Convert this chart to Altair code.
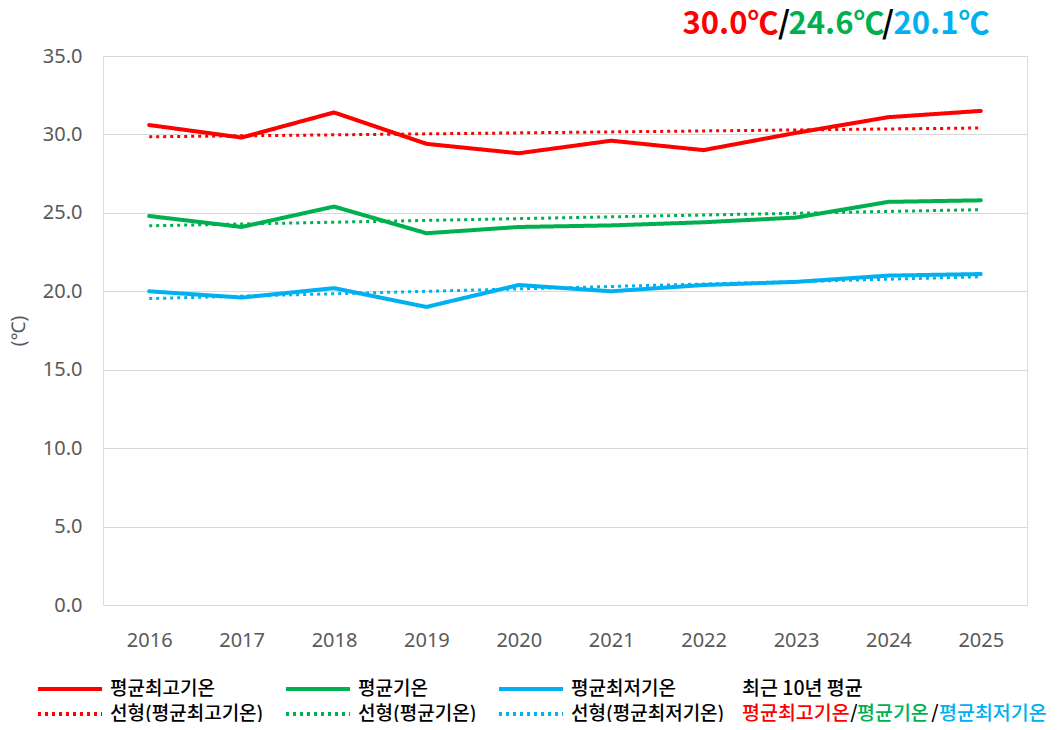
import altair as alt
import pandas as pd

years = [2016, 2017, 2018, 2019, 2020, 2021, 2022, 2023, 2024, 2025]
series_names = ["평균최고기온", "평균기온", "평균최저기온"]
trend_names = ["선형(평균최고기온)", "선형(평균기온)", "선형(평균최저기온)"]
max_temp = [30.6, 29.8, 31.4, 29.4, 28.8, 29.6, 29.0, 30.1, 31.1, 31.5]
avg_temp = [24.8, 24.1, 25.4, 23.7, 24.1, 24.2, 24.4, 24.7, 25.7, 25.8]
min_temp = [20.0, 19.6, 20.2, 19.0, 20.4, 20.0, 20.4, 20.6, 21.0, 21.1]
y_ticks = [0, 5, 10, 15, 20, 25, 30, 35]
series_colors = ["#FF0000", "#00B050", "#00B0F0"]
headline_values = ["30.0℃", "24.6℃", "20.1℃"]
note_title = "최근 10년 평균"
y_title = "(℃)"

rows = []
for name, tname, vals in zip(series_names, trend_names, [max_temp, avg_temp, min_temp]):
    for yr, v in zip(years, vals):
        rows.append({"year": yr, "series": name, "trend": tname, "value": v})
df = pd.DataFrame(rows)

# legend fills column by column: each column holds a series and its trend line
labels = []
label_colors = []
label_dashes = []
for name, tname, col in zip(series_names, trend_names, series_colors):
    labels += [name, tname]
    label_colors += [col, col]
    label_dashes += [[1, 0], [3, 4]]

KR = "Noto Sans CJK KR"

legend = alt.Legend(
    title=None, orient="none", legendX=-67, legendY=623, columns=3,
    symbolType="stroke", symbolSize=4096, symbolStrokeWidth=4, clipHeight=20,
    rowPadding=5, columnPadding=20, labelOffset=6, labelFont=KR,
    labelFontSize=19, labelColor="#000000", labelLimit=300, padding=0,
    labelFontWeight=500,
)
color = alt.Color("label:N", scale=alt.Scale(domain=labels, range=label_colors), legend=legend)
dash = alt.StrokeDash("label:N", scale=alt.Scale(domain=labels, range=label_dashes), legend=legend)

x = alt.X("year:Q", scale=alt.Scale(domain=[2015.5, 2025.5], nice=False, zero=False),
          axis=alt.Axis(values=years, format="d", title=None, grid=False, domain=False, ticks=False,
                        labelPadding=25, labelFontSize=20, labelFont="Noto Sans", labelColor="#595959"))
y = alt.Y("value:Q", scale=alt.Scale(domain=[0, 35], nice=False),
          axis=alt.Axis(values=y_ticks, format=".1f", title=y_title, grid=True, gridColor="#D9D9D9",
                        domain=False, ticks=False, labelPadding=21, labelFontSize=20, labelFont="Noto Sans",
                        labelColor="#595959", titleX=-85, titleY=274.5, titleAngle=270, titleAlign="center",
                        titleBaseline="middle", titleFontSize=19, titleFont="Noto Sans",
                        titleFontWeight="normal", titleColor="#595959"))

base = alt.Chart(df)
lines = base.transform_calculate(label="datum.series").mark_line(strokeWidth=4, strokeCap="round").encode(
    x=x, y=y, color=color, strokeDash=dash)
trend = base.transform_regression("year", "value", groupby=["series", "trend"]).transform_calculate(
    label="datum.trend").mark_line(strokeWidth=3, strokeCap="butt").encode(
    x=x, y=y, color=color, strokeDash=dash)


def text_layer(text, color, px, py, size, weight, align, font):
    return alt.Chart(pd.DataFrame({"t": [text]})).mark_text(
        align=align, baseline="middle", fontSize=size, fontWeight=weight, font=font, color=color
    ).encode(x=alt.value(px), y=alt.value(py), text="t:N")


HF = "Liberation Sans Narrow, Noto Sans CJK KR"
texts = [
    text_layer(headline_values[0], series_colors[0], 627.5, -31, 31, "bold", "center", HF),
    text_layer("/", "#000000", 681, -31, 31, "bold", "center", HF),
    text_layer(headline_values[1], series_colors[1], 733.5, -31, 31, "bold", "center", HF),
    text_layer("/", "#000000", 785, -31, 31, "bold", "center", HF),
    text_layer(headline_values[2], series_colors[2], 838.5, -31, 31, "bold", "center", HF),
    text_layer(note_title, "#000000", 639, 633, 19.5, 500, "left", KR),
    text_layer(series_names[0], series_colors[0], 639, 658, 19.5, 500, "left", KR),
    text_layer("/", "#000000", 747, 658, 19.5, 500, "left", KR),
    text_layer(series_names[1], series_colors[1], 754, 658, 19.5, 500, "left", KR),
    text_layer("/", "#000000", 828, 658, 19.5, 500, "left", KR),
    text_layer(series_names[2], series_colors[2], 836, 658, 19.5, 500, "left", KR),
]

chart = alt.layer(lines, trend, *texts).properties(
    width=924, height=549,
    autosize=alt.AutoSizeParams(type="none"),
    padding={"left": 95, "top": 48, "right": 22, "bottom": 117},
).configure_view(stroke=None).configure(background="#FFFFFF")

chart.save("out.html", embed_options={"renderer": "svg", "actions": False})
